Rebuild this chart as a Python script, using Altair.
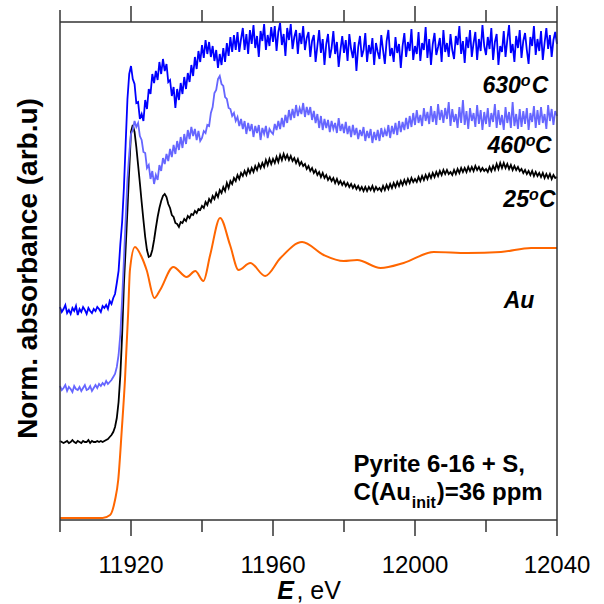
import altair as alt
import numpy as np
import pandas as pd

FONT = "Liberation Sans, Arial, Helvetica, sans-serif"

# ---- data ----
E_GRID = list(np.round(np.arange(11900.0, 12040.25, 0.5), 1))  # eV, 0.5 eV steps

BLUE_630 = [
    213, 208, 211, 215, 207, 210, 206, 212, 209, 214, 205, 211, 208, 213, 210, 206, 212, 209, 207, 211,
    209, 213, 211, 208, 214, 212, 215, 211, 219, 216, 222, 226, 237, 249, 276, 298, 332, 377, 421, 446,
    454, 441, 436, 417, 418, 401, 406, 399, 420, 411, 431, 426, 446, 437, 449, 440, 458, 446, 461, 449,
    456, 438, 440, 424, 433, 412, 431, 420, 437, 426, 443, 431, 447, 438, 455, 444, 463, 451, 469, 458,
    475, 462, 480, 466, 478, 463, 474, 459, 470, 452, 466, 455, 472, 458, 477, 464, 483, 468, 485, 470,
    488, 468, 481, 492, 470, 486, 466, 490, 476, 495, 472, 484, 463, 489, 479, 496, 470, 485, 474, 493,
    478, 494, 469, 488, 497, 475, 486, 464, 492, 480, 496, 471, 483, 490, 466, 487, 476, 494, 470, 482,
    488, 463, 479, 485, 458, 474, 490, 467, 481, 455, 476, 486, 462, 472, 489, 466, 478, 453, 470, 484,
    467, 480, 459, 486, 471, 462, 478, 449, 473, 484, 463, 470, 487, 458, 475, 466, 482, 455, 477, 468,
    461, 485, 470, 456, 479, 490, 464, 472, 458, 483, 467, 476, 452, 474, 487, 463, 478, 469, 491, 460,
    474, 466, 488, 459, 477, 470, 493, 462, 481, 455, 476, 487, 465, 473, 482, 458, 490, 468, 477, 463,
    486, 470, 461, 484, 475, 494, 466, 479, 457, 483, 472, 490, 463, 477, 488, 460, 481, 469, 495, 474,
    465, 483, 471, 492, 460, 478, 486, 455, 474, 468, 489, 463, 480, 495, 467, 476, 458, 484, 472, 490,
    462, 479, 487, 470, 456, 483, 474, 494, 465, 481, 469, 489, 460, 477, 492, 471, 485, 463, 480, 488,
    476,
]

LIGHT_460 = [
    134, 130, 132, 135, 129, 133, 131, 128, 134, 131, 130, 133, 129, 132, 135, 130, 131, 134, 129, 132,
    135, 132, 136, 134, 137, 135, 139, 136, 138, 140, 143, 146, 153, 165, 186, 221, 260, 301, 341, 366,
    386, 390, 399, 393, 397, 384, 380, 368, 367, 352, 355, 341, 349, 336, 345, 340, 355, 349, 362, 356,
    366, 359, 371, 363, 375, 366, 379, 370, 383, 372, 386, 376, 390, 381, 393, 384, 391, 380, 389, 379,
    382, 389, 387, 395, 394, 407, 413, 427, 430, 441, 444, 436, 434, 423, 421, 412, 411, 404, 407, 399,
    403, 394, 401, 391, 399, 386, 397, 389, 396, 383, 394, 387, 395, 380, 392, 386, 394, 382, 391, 388,
    386, 396, 390, 399, 391, 402, 393, 405, 397, 410, 400, 411, 402, 415, 404, 412, 406, 417, 403, 413,
    405, 413, 400, 409, 397, 406, 392, 404, 390, 401, 392, 400, 388, 399, 391, 397, 387, 402, 389, 396,
    387, 398, 386, 394, 383, 395, 385, 392, 381, 390, 384, 393, 379, 389, 382, 391, 377, 388, 380, 390,
    379, 392, 383, 390, 384, 395, 382, 394, 386, 397, 385, 399, 388, 398, 390, 402, 391, 404, 393, 407,
    395, 410, 397, 405, 394, 412, 399, 408, 396, 414, 398, 409, 395, 416, 400, 410, 397, 412, 401, 418,
    394, 411, 398, 406, 392, 413, 397, 420, 395, 409, 391, 412, 399, 407, 393, 415, 396, 410, 390, 408,
    396, 412, 393, 407, 398, 416, 392, 410, 395, 405, 390, 413, 397, 408, 392, 418, 394, 406, 391, 411,
    393, 409, 396, 412, 390, 407, 398, 414, 392, 410, 395, 413, 397, 406, 391, 415, 399, 411, 395, 409,
    404,
]

BLACK_25 = [
    79, 78, 77, 78, 79, 77, 78, 80, 78, 77, 79, 78, 77, 79, 78, 78, 80, 77, 79, 78,
    78, 79, 78, 79, 78, 79, 80, 81, 83, 85, 88, 93, 102, 118, 145, 185, 235, 272, 310, 350,
    388, 395, 388, 373, 355, 337, 318, 300, 283, 270, 263, 264, 270, 280, 292, 303, 312, 319, 324, 326,
    323, 316, 312, 305, 303, 297, 296, 293, 298, 297, 301, 299, 304, 302, 306, 305, 309, 307, 311, 310,
    314, 312, 318, 315, 321, 318, 324, 321, 327, 323, 330, 327, 333, 329, 337, 332, 339, 336, 342, 339,
    345, 341, 347, 344, 349, 345, 351, 347, 352, 348, 354, 350, 356, 352, 357, 353, 360, 355, 361, 356,
    361, 357, 363, 358, 365, 360, 366, 361, 365, 360, 364, 359, 362, 357, 361, 355, 358, 354, 356, 351,
    354, 349, 352, 347, 350, 345, 348, 343, 347, 342, 345, 340, 343, 339, 342, 337, 341, 336, 339, 335,
    338, 334, 337, 333, 336, 332, 335, 331, 334, 330, 333, 329, 333, 329, 333, 330, 334, 329, 333, 330,
    332, 329, 334, 330, 335, 331, 336, 332, 337, 333, 338, 334, 339, 335, 340, 336, 341, 337, 342, 338,
    341, 338, 343, 339, 344, 340, 345, 341, 346, 342, 347, 343, 348, 344, 349, 345, 350, 346, 350, 346,
    348, 345, 350, 346, 351, 347, 352, 348, 352, 348, 353, 349, 353, 349, 354, 350, 353, 349, 352, 349,
    351, 348, 353, 349, 354, 350, 356, 351, 357, 352, 357, 352, 356, 351, 355, 350, 354, 350, 353, 349,
    351, 347, 350, 346, 349, 345, 349, 344, 348, 344, 347, 343, 347, 342, 346, 342, 346, 341, 345, 342,
    343,
]

AU_E = [11900, 11912, 11914.1, 11915.5, 11916.4, 11917.4, 11918.3, 11919.2,
        11919.7, 11921.1, 11923.0, 11924.4, 11926.6, 11928.2, 11931.9,
        11935.7, 11938.1, 11940.4, 11942.3, 11945.1, 11947.9, 11950.3,
        11953.6, 11957.8, 11962.1, 11968.2, 11974.3, 11979.9, 11983.7,
        11990.3, 11996.8, 12005.3, 12014.8, 12024.2, 12032.7, 12040]
AU_V = [2, 2, 5, 20, 40, 90, 140, 207,
        250, 273, 263, 250, 222, 230, 253,
        243, 249, 239, 265, 302, 275, 250,
        257, 244, 262, 278, 265, 259, 260,
        252, 257, 268, 267, 268, 272, 272]

X_MAJOR = [11920, 11960, 12000, 12040]
X_MINOR = [11900, 11940, 11980, 12020]
X_TICK_LABELS = ["11920", "11960", "12000", "12040"]
X_RANGE = [11900, 12040]
Y_RANGE = [0, 498]

# ---- chart ----
# the view also holds the 16-px band of the bottom ticks (y from -16 to 498)
PLOT_W, VIEW_H = 497, 514
xscale = alt.Scale(domain=X_RANGE, nice=False, zero=False)
yscale = alt.Scale(domain=[-16, 498], nice=False, zero=False)
Y = alt.Y("v:Q", scale=yscale, axis=None)
XN = alt.X("E:Q", scale=xscale, axis=None)
FRAME = "#333"


def line(df, color, width=2.0, interp="linear"):
    return alt.Chart(df).mark_line(color=color, strokeWidth=width,
                                   interpolate=interp).encode(x=XN, y=Y)


au = line(pd.DataFrame({"E": AU_E, "v": AU_V}), "#ff6600", interp="monotone")
blk = line(pd.DataFrame({"E": E_GRID, "v": BLACK_25}), "#000000", width=1.8)
lb = line(pd.DataFrame({"E": E_GRID, "v": LIGHT_460}), "#6666ff", width=1.8)
bl = line(pd.DataFrame({"E": E_GRID, "v": BLUE_630}), "#0000ff", width=1.8)

# plot frame (box) drawn from the axis ranges
frame_v = alt.Chart(pd.DataFrame({"E": X_RANGE, "v0": [Y_RANGE[0]] * 2,
                                  "v1": [Y_RANGE[1]] * 2})).mark_rule(
    color=FRAME, strokeWidth=1.5).encode(
    x=XN, y=alt.Y("v0:Q", scale=yscale, axis=None), y2="v1:Q")
frame_h = alt.Chart(pd.DataFrame({"v": Y_RANGE, "e0": [X_RANGE[0]] * 2,
                                  "e1": [X_RANGE[1]] * 2})).mark_rule(
    color=FRAME, strokeWidth=1.5).encode(
    y=Y, x=alt.X("e0:Q", scale=xscale, axis=None), x2="e1:Q")


def ticks_data(vals, v0, v1):
    df = pd.DataFrame({"E": vals, "v0": [v0] * len(vals), "v1": [v1] * len(vals)})
    return alt.Chart(df).mark_rule(color=FRAME, strokeWidth=1.5).encode(
        x=XN, y=alt.Y("v0:Q", scale=yscale, axis=None), y2="v1:Q")


# tick marks (lengths in y-data units; 1 unit = 1 px here)
tk = [ticks_data(X_MAJOR, 498, 514), ticks_data(X_MINOR, 498, 510),
      ticks_data(X_MAJOR, 0, -16), ticks_data(X_MINOR, 0, -12)]


def txt(rows, size, weight="bold", style="normal", align="left",
        baseline="alphabetic", angle=0):
    df = pd.DataFrame(rows, columns=["E", "v", "t"])
    return alt.Chart(df).mark_text(
        font=FONT, fontSize=size, fontWeight=weight, fontStyle=style,
        align=align, baseline=baseline, angle=angle, color="black"
    ).encode(x=XN, y=Y, text="t:N")


# x tick labels
tick_labels = txt([(e, -52.7, s) for e, s in zip(X_MAJOR, X_TICK_LABELS)], 24,
                  weight="normal", align="center")

# curve labels (temperature labels with superscript "o")
lab_num = txt([(12029.8, 426.7, "630"), (12031.2, 366.7, "460"),
               (12032.1, 313.3, "25")], 23, style="italic", align="right")
lab_sup = txt([(12029.8, 434, "o"), (12031.2, 374, "o"),
               (12032.1, 320, "o")], 16, style="italic")
lab_c = txt([(12032.9, 426.7, "C"), (12033.8, 366.7, "C"),
             (12034.9, 313.3, "C")], 23, style="italic")
lab_au = txt([(12025.0, 211.7, "Au")], 23, style="italic")

# sample annotation
box1 = txt([(11982.7, 48.3, "Pyrite 6-16 + S,"), (11982.7, 20, "C(Au")], 24)
box_sub = txt([(11999.1, 12, "init")], 16)
box2 = txt([(12006.1, 20, ")=36 ppm")], 24)

# axis titles
ytitle = txt([(11891.3, 251.5, "Norm. absorbance (arb.u)")], 28,
             align="center", baseline="middle", angle=270)
xt_e = txt([(11965.9, -78.5, "E")], 25, style="italic", align="right")
xt_rest = txt([(11966.6, -78.5, ", eV")], 25, weight="normal")

chart = alt.layer(
    au, blk, lb, bl, frame_v, frame_h, *tk, tick_labels, lab_num, lab_sup,
    lab_c, lab_au, box1, box_sub, box2, ytitle, xt_e, xt_rest
).properties(
    width=PLOT_W, height=VIEW_H,
    autosize=alt.AutoSizeParams(type="none"),
    padding={"left": 60, "top": 22, "right": 47, "bottom": 68},
    background="white",
).configure_view(stroke=None)

chart.save("out.html", embed_options={"renderer": "svg", "actions": False})
